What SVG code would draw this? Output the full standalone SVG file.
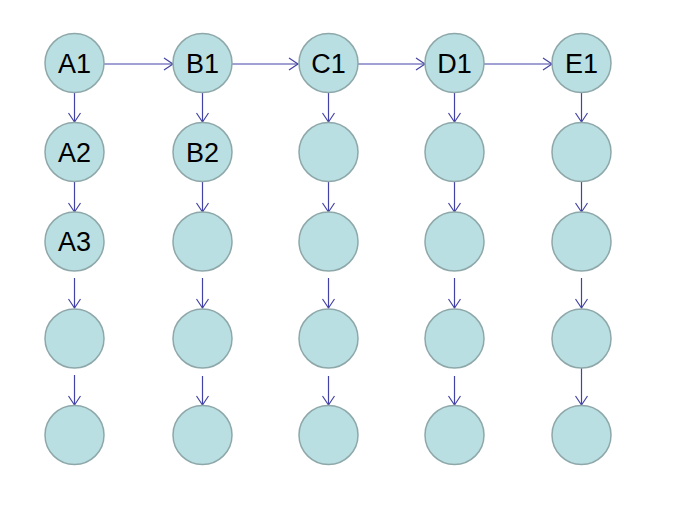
<svg xmlns="http://www.w3.org/2000/svg" width="687" height="525" viewBox="0 0 687 525">
<style>
.n circle{fill:#badfe2;stroke:#8ea8aa;stroke-width:1.5}
.n text{font-family:"Liberation Sans",Arial,sans-serif;font-size:27px;fill:#000;text-anchor:middle}
.e path{fill:none;stroke:#4343a6;stroke-width:1.2}
</style>
<defs>
<marker id="ah" markerUnits="userSpaceOnUse" markerWidth="20" markerHeight="20" viewBox="-10 -10 20 20" refX="0" refY="0" orient="auto">
<path d="M-9,-6 L0,0 L-9,6" fill="none" stroke="#4343a6" stroke-width="1.2"/>
</marker>
</defs>
<g id="edges" class="e">
<path d="M104,64 H173" marker-end="url(#ah)"/>
<path d="M232,64 H298" marker-end="url(#ah)"/>
<path d="M358,64 H425" marker-end="url(#ah)"/>
<path d="M484,64 H552" marker-end="url(#ah)"/>
<path d="M74.5,92.5 V122" marker-end="url(#ah)"/>
<path d="M202.5,92.5 V122" marker-end="url(#ah)"/>
<path d="M328.5,92.5 V122" marker-end="url(#ah)"/>
<path d="M454.5,92.5 V122" marker-end="url(#ah)"/>
<path d="M581.5,92.5 V122" marker-end="url(#ah)"/>
<path d="M74.5,181.5 V212" marker-end="url(#ah)"/>
<path d="M202.5,181.5 V212" marker-end="url(#ah)"/>
<path d="M328.5,181.5 V212" marker-end="url(#ah)"/>
<path d="M454.5,181.5 V212" marker-end="url(#ah)"/>
<path d="M581.5,181.5 V212" marker-end="url(#ah)"/>
<path d="M74.5,278 V308" marker-end="url(#ah)"/>
<path d="M202.5,278 V308" marker-end="url(#ah)"/>
<path d="M328.5,278 V308" marker-end="url(#ah)"/>
<path d="M454.5,278 V308" marker-end="url(#ah)"/>
<path d="M581.5,278 V308" marker-end="url(#ah)"/>
<path d="M74.5,375 V405" marker-end="url(#ah)"/>
<path d="M202.5,376 V405" marker-end="url(#ah)"/>
<path d="M328.5,376 V405" marker-end="url(#ah)"/>
<path d="M454.5,376 V405" marker-end="url(#ah)"/>
<path d="M581.5,368 V405" marker-end="url(#ah)"/>
</g>
<g id="A1" class="n"><circle cx="74.5" cy="63" r="29.5"/><text x="74.5" y="72.5">A1</text></g>
<g id="B1" class="n"><circle cx="202.5" cy="63" r="29.5"/><text x="202.5" y="72.5">B1</text></g>
<g id="C1" class="n"><circle cx="328.5" cy="63" r="29.5"/><text x="328.5" y="72.5">C1</text></g>
<g id="D1" class="n"><circle cx="454.5" cy="63" r="29.5"/><text x="454.5" y="72.5">D1</text></g>
<g id="E1" class="n"><circle cx="581.5" cy="63" r="29.5"/><text x="581.5" y="72.5">E1</text></g>
<g id="A2" class="n"><circle cx="74.5" cy="152" r="29.5"/><text x="74.5" y="161.5">A2</text></g>
<g id="B2" class="n"><circle cx="202.5" cy="152" r="29.5"/><text x="202.5" y="161.5">B2</text></g>
<g id="C2" class="n"><circle cx="328.5" cy="152" r="29.5"/></g>
<g id="D2" class="n"><circle cx="454.5" cy="152" r="29.5"/></g>
<g id="E2" class="n"><circle cx="581.5" cy="152" r="29.5"/></g>
<g id="A3" class="n"><circle cx="74.5" cy="241.5" r="29.5"/><text x="74.5" y="251">A3</text></g>
<g id="B3" class="n"><circle cx="202.5" cy="241.5" r="29.5"/></g>
<g id="C3" class="n"><circle cx="328.5" cy="241.5" r="29.5"/></g>
<g id="D3" class="n"><circle cx="454.5" cy="241.5" r="29.5"/></g>
<g id="E3" class="n"><circle cx="581.5" cy="241.5" r="29.5"/></g>
<g id="A4" class="n"><circle cx="74.5" cy="338.5" r="29.5"/></g>
<g id="B4" class="n"><circle cx="202.5" cy="338.5" r="29.5"/></g>
<g id="C4" class="n"><circle cx="328.5" cy="338.5" r="29.5"/></g>
<g id="D4" class="n"><circle cx="454.5" cy="338.5" r="29.5"/></g>
<g id="E4" class="n"><circle cx="581.5" cy="338.5" r="29.5"/></g>
<g id="A5" class="n"><circle cx="74.5" cy="435" r="29.5"/></g>
<g id="B5" class="n"><circle cx="202.5" cy="435" r="29.5"/></g>
<g id="C5" class="n"><circle cx="328.5" cy="435" r="29.5"/></g>
<g id="D5" class="n"><circle cx="454.5" cy="435" r="29.5"/></g>
<g id="E5" class="n"><circle cx="581.5" cy="435" r="29.5"/></g>
</svg>
